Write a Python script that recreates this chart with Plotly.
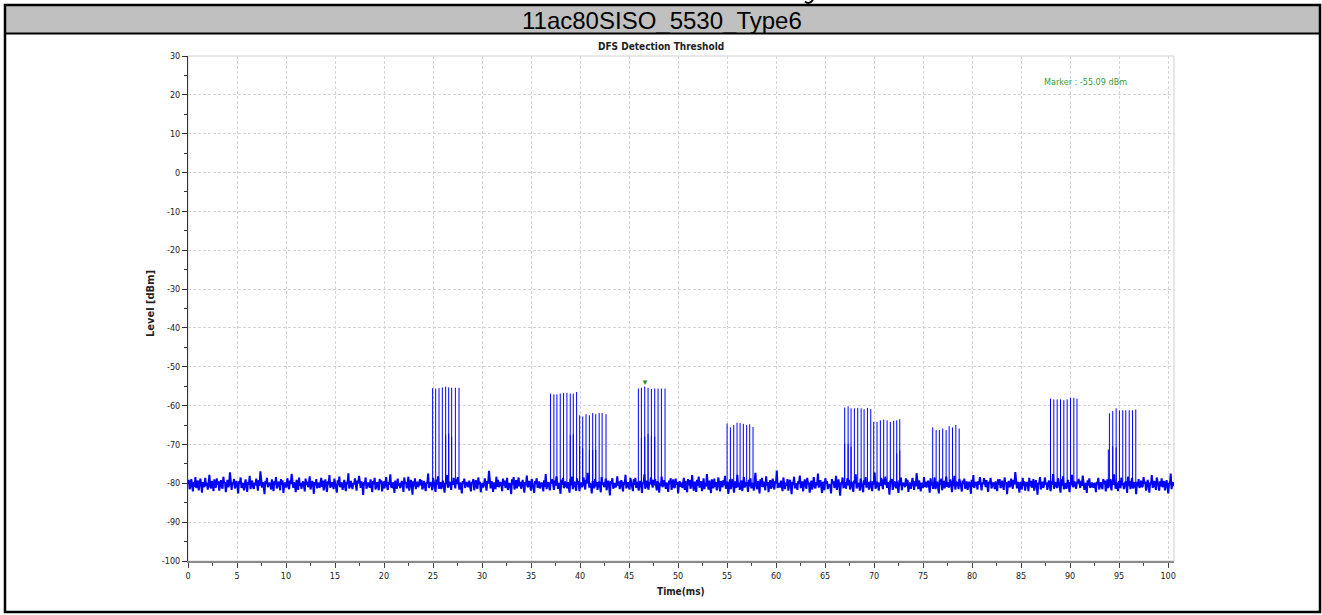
import plotly.graph_objects as go

# ---------------- data ----------------
header_title = "11ac80SISO_5530_Type6"
chart_title = "DFS Detection Threshold"
x_title = "Time(ms)"
y_title = "Level [dBm]"
marker_time_ms = 46.60
marker_level_dbm = -55.09

x_range = [0, 100.6]
y_range = [-100, 30]
x_tick_vals = [0, 5, 10, 15, 20, 25, 30, 35, 40, 45, 50, 55, 60, 65, 70, 75, 80, 85, 90, 95, 100]
x_tick_labels = ["0", "5", "10", "15", "20", "25", "30", "35", "40", "45", "50",
                 "55", "60", "65", "70", "75", "80", "85", "90", "95", "100"]
y_tick_vals = [-100, -90, -80, -70, -60, -50, -40, -30, -20, -10, 0, 10, 20, 30]
y_tick_labels = ["-100", "-90", "-80", "-70", "-60", "-50", "-40", "-30", "-20", "-10", "0", "10", "20", "30"]

# noise floor trace (dBm), uniformly sampled over 0..100.6 ms
noise_dbm = [
    -80.2,-79.1,-81.5,-80.8,-78.9,-80.4,-82.1,-79.6,-80.9,-78.4,-81.2,-80.0,-79.3,-81.8,-80.6,-78.8,-80.3,-82.4,-79.7,-80.5,
    -81.0,-78.6,-80.7,-79.9,-81.6,-80.1,-77.8,-80.9,-81.3,-79.4,-80.2,-82.0,-79.0,-80.6,-81.1,-78.7,-80.4,-79.5,-81.9,-80.3,
    -79.2,-80.8,-81.4,-78.3,-80.0,-79.7,-82.3,-80.5,-79.1,-81.0,-80.4,-77.2,-80.9,-81.7,-79.8,-80.2,-78.9,-81.3,-80.6,-79.4,
    -80.7,-82.6,-79.5,-80.1,-78.5,-81.2,-80.3,-79.9,-81.8,-80.0,-79.0,-80.8,-82.2,-79.6,-80.4,-78.1,-81.5,-80.2,-79.3,-80.9,
    -81.4,-79.8,-80.5,-78.8,-80.0,-81.9,-79.2,-80.7,-76.9,-80.3,-81.1,-79.7,-80.6,-82.8,-79.4,-80.1,-78.6,-81.0,-80.5,-79.9,
    -80.2,-81.6,-79.0,-80.8,-82.0,-79.5,-80.3,-78.4,-81.3,-80.7,-79.6,-80.0,-81.8,-78.9,-80.4,-79.2,-82.5,-80.6,-79.8,-81.1,
    -80.0,-78.7,-80.9,-81.5,-79.3,-80.2,-77.6,-80.8,-81.2,-79.7,-80.5,-82.3,-79.1,-80.3,-81.7,-78.5,-80.6,-79.9,-81.4,-80.1,
    -79.5,-80.7,-82.1,-78.8,-80.4,-79.6,-81.0,-80.2,-78.2,-81.6,-80.8,-79.4,-80.0,-82.7,-79.7,-80.5,-78.9,-81.3,-80.3,-79.8,
    -81.2,-80.1,-78.6,-80.9,-79.3,-81.8,-80.4,-79.0,-80.7,-82.2,-79.5,-80.3,-77.9,-81.1,-80.6,-79.7,-80.2,-81.5,-78.8,-80.0,
    -80.8,-82.4,-79.2,-80.5,-78.3,-81.0,-80.1,-79.8,-81.7,-80.4,-79.1,-80.9,-82.0,-79.6,-80.2,-77.4,-81.3,-80.7,-79.4,-80.6,
    -81.5,-79.9,-80.3,-78.7,-80.8,-81.9,-79.3,-80.0,-78.1,-80.6,-81.2,-79.5,-80.4,-83.0,-79.7,-80.2,-78.5,-81.4,-80.1,-79.8,
    -80.5,-81.1,-79.0,-80.7,-82.3,-79.4,-80.2,-78.6,-81.6,-80.9,-79.7,-80.3,-81.8,-78.9,-80.0,-79.2,-82.1,-80.6,-79.5,-81.3,
    -80.1,-78.4,-80.8,-81.7,-79.6,-80.4,-77.7,-80.9,-81.0,-79.8,-80.2,-82.5,-79.3,-80.5,-81.4,-78.8,-80.7,-79.9,-81.2,-80.3,
    -79.4,-80.6,-82.2,-78.5,-80.1,-79.7,-81.3,-80.0,-78.3,-81.9,-80.8,-79.1,-80.4,-82.9,-79.5,-80.7,-78.7,-81.5,-80.2,-79.6,
    -81.0,-80.3,-78.9,-80.5,-79.2,-81.6,-80.9,-79.4,-80.6,-82.0,-79.8,-80.1,-77.5,-81.2,-80.4,-79.9,-80.0,-81.8,-78.6,-80.7,
    -80.9,-82.2,-79.1,-80.3,-78.2,-81.4,-80.0,-79.7,-81.5,-80.6,-79.3,-80.8,-82.4,-79.9,-80.1,-77.9,-81.1,-80.5,-79.6,-80.2,
    -81.7,-79.5,-80.4,-78.6,-80.9,-81.3,-79.0,-80.2,-78.4,-80.7,-81.6,-79.8,-80.3,-82.6,-79.4,-80.0,-78.8,-81.2,-80.6,-79.7,
    -80.4,-81.0,-79.3,-80.6,-82.1,-79.7,-80.0,-78.9,-81.8,-80.5,-79.2,-80.9,-81.4,-78.5,-80.2,-79.6,-82.3,-80.8,-79.9,-81.1,
    -80.3,-78.7,-80.5,-81.9,-79.4,-80.1,-76.8,-80.7,-81.3,-79.5,-80.0,-82.2,-79.8,-80.6,-81.5,-78.3,-80.9,-79.1,-81.0,-80.4,
    -79.7,-80.2,-82.0,-78.8,-80.6,-79.3,-81.2,-80.4,-78.6,-81.7,-80.1,-79.9,-80.8,-82.8,-79.0,-80.3,-78.4,-81.6,-80.5,-79.2,
    -81.3,-80.0,-78.5,-80.8,-79.6,-81.4,-80.2,-79.1,-80.9,-82.4,-79.7,-80.5,-78.0,-81.0,-80.7,-79.4,-80.3,-81.9,-78.9,-80.1,
    -80.6,-82.5,-79.4,-80.0,-78.7,-81.1,-80.8,-79.5,-81.3,-80.2,-79.8,-80.4,-82.1,-79.2,-80.9,-77.6,-81.5,-80.3,-79.7,-80.7,
    -81.8,-79.6,-80.1,-78.9,-80.5,-81.7,-79.3,-80.6,-78.2,-80.0,-81.4,-79.9,-80.7,-82.7,-79.1,-80.4,-78.6,-81.2,-80.8,-79.5,
    -80.2,-81.3,-79.7,-80.9,-82.4,-79.0,-80.5,-78.3,-81.5,-80.1,-79.6,-80.8,-81.9,-78.7,-80.3,-79.4,-82.0,-80.6,-79.8,-81.0,
    -80.5,-78.5,-80.7,-81.6,-79.2,-80.0,-77.3,-80.4,-81.1,-79.9,-80.6,-82.6,-79.5,-80.2,-81.3,-78.9,-80.8,-79.7,-81.7,-80.0,
    -79.6,-80.9,-82.3,-78.4,-80.3,-79.8,-81.0,-80.5,-78.8,-81.8,-80.2,-79.3,-80.6,-83.1,-79.4,-80.1,-78.7,-81.4,-80.7,-79.9,
    -81.1,-80.4,-78.2,-80.6,-79.5,-81.5,-80.0,-79.2,-80.8,-82.1,-79.6,-80.3,-77.8,-81.3,-80.5,-79.7,-80.9,-81.6,-78.6,-80.2,
    -80.7,-82.0,-79.0,-80.4,-78.6,-81.2,-80.3,-79.6,-81.9,-80.8,-79.4,-80.1,-82.5,-79.8,-80.0,-77.7,-81.4,-80.6,-79.3,-80.9,
    -81.6,-79.7,-80.2,-78.5,-80.7,-81.1,-79.1,-80.5,-78.9,-80.3,-81.8,-79.5,-80.0,-82.4,-79.9,-80.6,-78.3,-81.0,-80.4,-79.2,
    -80.3,-81.4,-79.8,-80.8,-82.2,-79.3,-80.1,-78.7,-81.7,-80.6,-79.0,-80.9,-81.2,-78.8,-80.4,-79.6,-82.6,-80.2,-79.5,-80.9,
    -79.8,-81.2,-80.1,-78.6,-81.7,-79.4,-80.9,-82.3,-78.9,-80.5,-79.2,-81.4,-80.7,-77.9,-80.3,-81.9,-79.6,-80.0,-82.2,-79.1,
    -80.6,-78.3,-81.1,-80.4,-79.5,-82.0,-80.2,-78.7,-81.5,-79.9,-80.8,-77.6,-80.1,-81.6,-79.3,-80.7,-82.5,-79.0,-80.4,-81.3,
    -78.8,-80.9,-79.7,-81.8,-80.3,-78.5,-80.6,-82.1,-79.4,-80.0,-81.0,-79.2,-80.5,-78.1,-81.4,-80.8,-79.6,-82.7,-80.2,-79.0,
    -81.5,-80.0,-78.9,-80.7,-82.4,-79.5,-80.3,-81.2,-77.8,-80.9,-79.8,-81.7,-80.1,-79.3,-82.0,-80.6,-78.4,-81.1,-80.4,-79.7,
    -80.2,-82.2,-79.1,-80.8,-78.7,-81.3,-80.5,-79.9,-81.9,-80.0,-77.3,-80.7,-81.5,-79.4,-80.3,-82.6,-79.0,-80.9,-78.6,-81.0,
    -79.6,-80.4,-81.8,-78.2,-80.6,-79.7,-82.3,-80.1,-79.2,-81.4,-80.8,-78.8,-80.2,-81.6,-79.5,-80.0,-76.7,-81.2,-80.5,-79.9,
    -81.1,-79.3,-80.7,-82.0,-78.5,-80.3,-81.5,-79.8,-80.6,-78.9,-81.9,-80.2,-79.1,-80.8,-82.8,-79.6,-80.4,-78.3,-81.3,-80.0,
    -80.5,-81.7,-79.4,-80.1,-78.0,-81.0,-80.9,-79.5,-82.1,-80.3,-79.0,-80.6,-81.4,-78.6,-80.2,-79.8,-82.4,-80.7,-79.3,-81.6,
    -79.9,-78.4,-80.8,-81.3,-79.7,-80.5,-77.5,-81.1,-80.0,-79.2,-80.9,-82.5,-79.6,-80.4,-81.8,-78.7,-80.1,-79.4,-81.5,-80.6,
    -80.3,-80.8,-82.6,-78.9,-80.0,-79.5,-81.2,-80.7,-78.1,-81.7,-80.4,-79.0,-80.6,-83.2,-79.8,-80.2,-78.5,-81.0,-80.9,-79.7,
    -81.4,-80.2,-78.7,-80.5,-79.1,-81.6,-80.3,-79.6,-80.8,-82.2,-79.3,-80.0,-77.7,-81.3,-80.6,-79.9,-80.4,-81.9,-78.8,-80.1,
    -80.7,-82.3,-79.2,-80.4,-78.4,-81.1,-80.0,-79.7,-81.6,-80.5,-79.4,-80.9,-82.0,-79.5,-80.3,-77.2,-81.4,-80.8,-79.6,-80.2,
    -81.9,-79.8,-80.6,-78.6,-80.1,-81.5,-79.0,-80.3,-78.3,-80.8,-81.2,-79.7,-80.5,-82.9,-79.3,-80.0,-78.9,-81.7,-80.4,-79.5,
    -80.1,-81.3,-79.6,-80.9,-82.5,-79.2,-80.6,-78.5,-81.8,-80.2,-79.9,-80.4,-81.0,-78.7,-80.7,-79.1,-82.2,-80.5,-79.8,-81.4,
    -80.4,-78.6,-80.2,-81.7,-79.5,-80.8,-77.4,-80.6,-81.5,-79.3,-80.1,-82.1,-79.9,-80.5,-81.2,-78.4,-80.9,-79.6,-81.1,-80.3,
    -79.3,-80.7,-82.4,-78.7,-80.5,-79.9,-81.4,-80.3,-78.5,-81.5,-80.0,-79.6,-80.9,-82.6,-79.2,-80.4,-78.8,-81.8,-80.1,-79.4,
    -81.3,-80.5,-78.3,-80.9,-79.7,-81.1,-80.6,-79.0,-80.2,-82.3,-79.4,-80.7,-78.1,-81.6,-80.3,-79.8,-80.0,-81.5,-78.9,-80.6,
    -80.8,-82.1,-79.3,-80.2,-78.8,-81.4,-80.5,-79.5,-81.7,-80.1,-79.6,-80.3,-82.7,-79.1,-80.9,-77.9,-81.2,-80.4,-79.7,-80.0,
    -81.6,-79.4,-80.3,-78.4,-80.6,-81.8,-79.8,-80.2,-78.7,-80.5,-81.0,-79.2,-80.8,-82.2,-79.6,-80.1,-78.6,-81.3,-80.7,-79.9,
    -80.0,-81.5,-79.5,-80.7,-82.0,-79.0,-80.4,-78.9,-81.2,-80.8,-79.3,-80.6,-81.7,-78.5,-80.2,-79.7,-82.8,-80.3,-79.4,-81.0,
    -80.6,-78.8,-80.4,-81.4,-79.1,-80.3,-77.1,-80.8,-81.3,-79.6,-80.5,-82.4,-79.7,-80.0,-81.6,-78.6,-80.7,-79.5,-81.9,-80.2,
    -79.7,-80.1,-82.0,-78.6,-80.8,-79.4,-81.1,-80.6,-78.9,-81.9,-80.3,-79.2,-80.5,-82.9,-79.9,-80.2,-78.4,-81.6,-80.4,-79.6,
    -81.2,-80.6,-78.5,-80.3,-79.8,-81.7,-80.1,-79.3,-80.9,-82.0,-79.5,-80.4,-77.6,-81.4,-80.2,-79.7,-80.8,-81.2,-78.7,-80.5,
    -80.9,-82.4,-79.0,-80.6,-78.2,-81.5,-80.2,-79.9,-81.4,-80.7,-79.1,-80.5,-82.3,-79.7,-80.4,-77.8,-81.0,-80.3,-79.5,-80.8,
    -81.4,-79.6,-80.0,-78.9,-80.4,-81.2,-79.4,-80.7,-78.0,-80.2,-81.7,-79.9,-80.3,-82.5,-79.2,-80.6,-78.7,-81.1,-80.9,-79.8,
    -80.4,-81.1,-79.9,-80.5,-82.3,-79.6,-80.2,-78.6,-81.6,-80.0,-79.7,-80.8,-81.5,-78.9,-80.1,-79.3,-82.1,-80.7,-79.0,-81.2,
    -80.2,-78.9,-80.6,-81.8,-79.0,-80.4,-77.7,-80.3,-81.4,-79.8,-80.7,-82.0,-79.4,-80.9,-81.0,-78.5,-80.5,-79.9,-81.5,-80.1,
    -79.5,-80.3,-82.5,-78.3,-80.7,-79.5,-81.5,-80.1,-78.6,-81.3,-80.9,-79.7,-80.2,-82.8,-79.6,-80.8,-78.9,-81.2,-80.6,-79.3,
    -81.0,-80.7,-78.4,-80.1,-79.6,-81.9,-80.4,-79.1,-80.6,-82.4,-79.8,-80.2,-77.9,-81.1,-80.8,-79.4,-80.3,-81.7,-78.5,-80.4,
    -80.6,-81.9,-79.5,-80.8,-78.7,-81.0,-80.1,-79.4,-81.8,-80.5,-79.2,-80.7,-82.6,-79.9,-80.3,-77.5,-81.5,-80.0,-79.8,-80.7,
]

# radar pulse times (ms) and peak levels (dBm)
pulse_times_ms = [
    24.96, 25.27, 25.61, 25.95, 26.29, 26.60, 26.90, 27.28, 27.65,
    36.99, 37.33, 37.64, 37.98, 38.32, 38.66, 39.00, 39.31, 39.65,
    39.96, 40.27, 40.61, 40.95, 41.29, 41.60, 41.95, 42.25, 42.65,
    45.95, 46.26, 46.60, 46.94, 47.28, 47.62, 47.96, 48.30, 48.67,
    55.00, 55.34, 55.68, 56.02, 56.33, 56.66, 57.00, 57.31, 57.65,
    67.00, 67.35, 67.65, 67.99, 68.33, 68.68, 68.98, 69.32, 69.66,
    69.96, 70.30, 70.64, 70.98, 71.33, 71.66, 72.00, 72.31, 72.62,
    75.98, 76.33, 76.66, 77.00, 77.35, 77.66, 78.00, 78.34, 78.68,
    88.00, 88.34, 88.68, 89.02, 89.36, 89.70, 90.04, 90.38, 90.70,
    94.01, 94.35, 94.70, 95.03, 95.37, 95.68, 96.03, 96.37, 96.70,
]
pulse_levels_dbm = [
    -55.5, -55.6, -55.5, -55.3, -55.1, -55.3, -55.4, -55.4, -55.4,
    -56.9, -57.1, -57.1, -56.9, -56.7, -56.7, -56.9, -56.9, -56.5,
    -62.5, -62.8, -62.2, -62.5, -61.9, -62.2, -61.9, -61.9, -62.2,
    -55.6, -55.4, -55.09, -55.4, -55.7, -55.6, -55.6, -55.6, -55.6,
    -64.6, -65.6, -65.0, -64.4, -64.5, -64.7, -65.0, -64.8, -65.5,
    -60.5, -60.2, -60.7, -60.7, -60.6, -60.7, -60.9, -60.6, -60.9,
    -64.2, -64.2, -63.8, -63.6, -63.8, -64.2, -63.9, -63.8, -63.5,
    -65.6, -66.3, -66.3, -65.9, -66.3, -65.3, -65.6, -65.0, -65.9,
    -58.2, -58.4, -58.4, -58.4, -58.6, -58.4, -58.0, -58.0, -58.2,
    -62.0, -61.4, -60.7, -61.2, -61.2, -61.2, -61.2, -61.2, -61.0,
]

# partially captured pulses (shorter lines inside groups)
partial_times_ms = [26.29, 26.60, 26.90, 39.00, 39.31, 39.96, 40.27, 40.95, 41.29, 41.60,
                    46.26, 46.60, 46.94, 47.28, 47.62, 67.00, 67.35, 67.65, 72.31, 72.62,
                    93.90, 94.35, 94.70]
partial_levels_dbm = [-67.6, -67.2, -68.0, -67.6, -67.4, -70.5, -71.0, -71.4, -71.4, -71.4,
                      -68.3, -68.0, -67.3, -67.8, -68.0, -69.8, -69.8, -70.6, -72.3, -71.5,
                      -71.3, -70.5, -70.8]

pulse_base_dbm = -80.0

# ---------------- build traces ----------------
noise_dt = x_range[1] / (len(noise_dbm) - 1)
noise_t = [i * noise_dt for i in range(len(noise_dbm))]

px, py = [], []
for t, lv in zip(pulse_times_ms + partial_times_ms, pulse_levels_dbm + partial_levels_dbm):
    px += [t, t, None]
    py += [pulse_base_dbm, lv, None]

BLUE = "#0000ff"
fig = go.Figure()
fig.add_trace(go.Scatter(x=noise_t, y=noise_dbm, mode="lines",
                         line=dict(color=BLUE, width=2), hoverinfo="skip", showlegend=False))
fig.add_trace(go.Scatter(x=px, y=py, mode="lines",
                         line=dict(color=BLUE, width=1), hoverinfo="skip", showlegend=False))

# ---------------- layout ----------------
W, H = 1322, 615
L, R, T, B = 188, 148, 56, 54
pw, ph = W - L - R, H - T - B


def pxx(x):
    return (x - L) / pw


def pxy(y):
    return (H - B - y) / ph


narrow = "Liberation Sans Narrow, Arial Narrow, DejaVu Sans Condensed, Liberation Sans, Arial"
tick_font = dict(family=narrow, size=9, color="#222222")
grid = dict(showgrid=True, gridcolor="#d4d4d4", griddash="3px,2px", gridwidth=1)

fig.update_layout(
    width=W, height=H,
    margin=dict(l=L, r=R, t=T, b=B, pad=0),
    paper_bgcolor="white", plot_bgcolor="white",
    showlegend=False,
    xaxis=dict(range=x_range, tickmode="array", tickvals=x_tick_vals, ticktext=x_tick_labels,
               ticks="outside", ticklen=5, tickcolor="#444444",
               tickfont=tick_font, showline=True, linecolor="#8a8a8a", linewidth=2, zeroline=False,
               minor=dict(dtick=2.5, ticks="outside", ticklen=3, tickcolor="#444444", showgrid=False),
               **grid),
    yaxis=dict(range=y_range, tickmode="array", tickvals=y_tick_vals, ticktext=y_tick_labels,
               ticks="outside", ticklen=5, tickcolor="#333333",
               tickfont=tick_font, showline=True, linecolor="#333333", linewidth=1, zeroline=False,
               minor=dict(dtick=5, ticks="outside", ticklen=3, tickcolor="#333333", showgrid=False),
               **grid),
)

# small cut-off glyph fragment at the very top edge (descender of a clipped heading)
gx0, gx1 = pxx(805), pxx(813)
shapes = [
    dict(type="rect", xref="paper", yref="paper", x0=0, x1=1, y0=0, y1=1,
         line=dict(color="#d0d0d0", width=1), layer="below"),
    dict(type="rect", xref="paper", yref="paper", x0=pxx(5), x1=pxx(1320), y0=pxy(33.5), y1=pxy(5),
         fillcolor="#c0c0c0", line=dict(color="black", width=2), layer="below"),
    dict(type="rect", xref="paper", yref="paper", x0=pxx(5), x1=pxx(1320), y0=pxy(612), y1=pxy(5),
         line=dict(color="black", width=2.5), layer="below"),
    dict(type="path", xref="paper", yref="paper",
         path="M %f,%f Q %f,%f %f,%f" % (gx0, pxy(1.5), (gx0 + gx1) / 2, pxy(5), gx1, pxy(0)),
         line=dict(color="black", width=2)),
]
fig.update_layout(shapes=shapes)

annotations = [
    dict(text=header_title, xref="paper", yref="paper", x=pxx(662), y=pxy(21), showarrow=False,
         xanchor="center", yanchor="middle", font=dict(family="Liberation Sans, Arial", size=24, color="black")),
    dict(text="<b>" + chart_title + "</b>", xref="paper", yref="paper", x=pxx(661), y=pxy(47), showarrow=False,
         xanchor="center", yanchor="middle", font=dict(family=narrow, size=10, color="#222222")),
    dict(text="<b>" + x_title + "</b>", xref="paper", yref="paper", x=pxx(681), y=pxy(591), showarrow=False,
         xanchor="center", yanchor="middle", font=dict(family=narrow, size=10, color="#222222")),
    dict(text="<b>" + y_title + "</b>", xref="paper", yref="paper", x=pxx(150), y=pxy(304), showarrow=False,
         xanchor="center", yanchor="middle", textangle=-90, font=dict(family=narrow, size=11, color="#222222")),
    dict(text="Marker : %.2f dBm" % marker_level_dbm, xref="paper", yref="paper", x=pxx(1085), y=pxy(82),
         showarrow=False, xanchor="center", yanchor="middle",
         font=dict(family=narrow, size=9, color="#3a9a3a")),
    dict(text="\u25BC", x=marker_time_ms, y=marker_level_dbm, xref="x", yref="y", showarrow=False,
         yanchor="bottom", yshift=-2, font=dict(size=8, color="#2e8b2e")),
]
fig.update_layout(annotations=annotations)

fig.write_html("out.html", config={"displayModeBar": False},
               post_script="document.body.style.margin='0';document.body.style.overflow='hidden';")
